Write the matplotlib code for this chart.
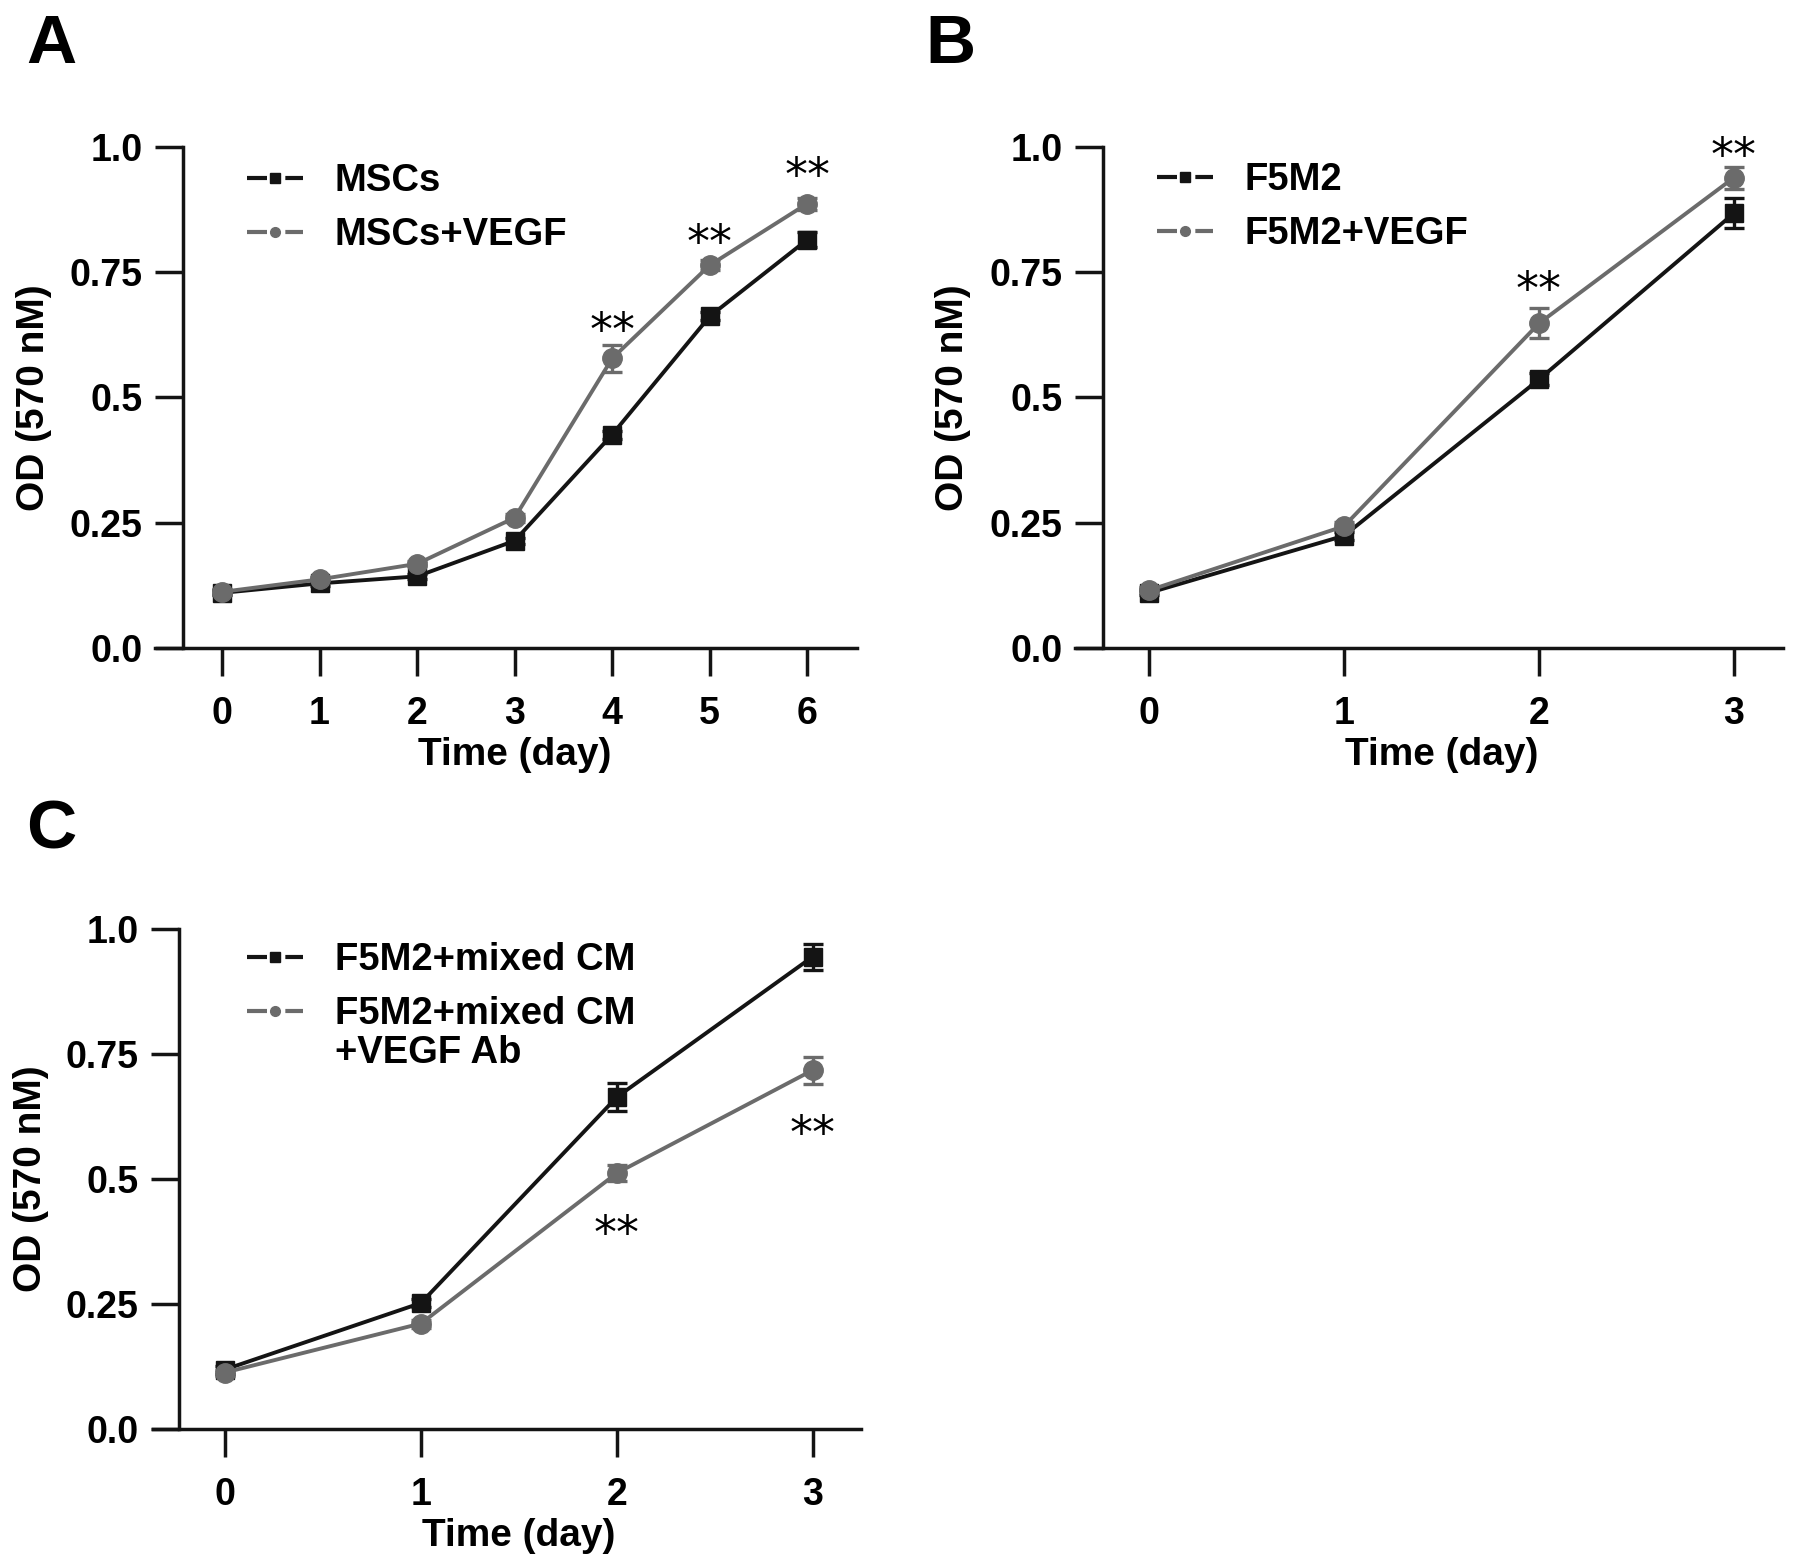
import matplotlib
matplotlib.use("Agg")
import matplotlib.pyplot as plt
from matplotlib.lines import Line2D

plt.rcParams['font.family'] = ['Liberation Sans', 'DejaVu Sans']
plt.rcParams['font.weight'] = 'bold'

BLACK = '#141414'
GREY = '#6b6b6b'

# panel A - MSCs
days_a = [0, 1, 2, 3, 4, 5, 6]
mscs = [0.110, 0.129, 0.143, 0.214, 0.426, 0.662, 0.815]
mscs_err = [0.005, 0.005, 0.005, 0.006, 0.008, 0.008, 0.015]
mscs_vegf = [0.112, 0.137, 0.168, 0.260, 0.578, 0.764, 0.887]
mscs_vegf_err = [0.005, 0.005, 0.005, 0.008, 0.027, 0.010, 0.012]
stars_a_x = [4, 5, 6]
stars_a_y = [0.655, 0.830, 0.964]

# panel B - F5M2
days_b = [0, 1, 2, 3]
f5m2 = [0.110, 0.224, 0.536, 0.868]
f5m2_err = [0.005, 0.008, 0.012, 0.030]
f5m2_vegf = [0.115, 0.243, 0.648, 0.939]
f5m2_vegf_err = [0.006, 0.008, 0.030, 0.022]
stars_b_x = [2, 3]
stars_b_y = [0.737, 1.004]

# panel C - mixed CM
days_c = [0, 1, 2, 3]
mixed = [0.119, 0.252, 0.664, 0.945]
mixed_err = [0.008, 0.008, 0.028, 0.026]
mixed_ab = [0.113, 0.211, 0.512, 0.718]
mixed_ab_err = [0.006, 0.008, 0.016, 0.027]
stars_c_x = [2, 3]
stars_c_y = [0.412, 0.612]

yticks = [0, 0.25, 0.5, 0.75, 1.0]
ytick_labels = ['0.0', '0.25', '0.5', '0.75', '1.0']

fig = plt.figure(figsize=(17.95, 15.6), dpi=100)


def series(ax, x, y, err, color, marker, ms):
    c = ax.errorbar(x, y, yerr=err, color=color, marker=marker, ms=ms,
                    mec=color, mfc=color, lw=2.8, elinewidth=2.4,
                    capsize=7, capthick=2.4, zorder=3)
    for art in c.get_children():
        art.set_clip_on(False)


def legend_handle(color, marker, ms):
    return Line2D([], [], color=color, lw=3, marker=marker, ms=ms,
                  linestyle=(0, (4.8, 4.4)), dash_capstyle='butt')


def panel(rect, xlim, spine_x, days, s1, e1, s2, e2, labels, sx, sy, leg_xy, star_dy):
    ax = fig.add_axes(rect)
    series(ax, days, s1, e1, BLACK, 's', 12.5)
    series(ax, days, s2, e2, GREY, 'o', 14)
    ax.set_xlim(*xlim)
    ax.set_ylim(0, 1.0)
    for side in ['top', 'right']:
        ax.spines[side].set_visible(False)
    ax.spines['left'].set_position(('data', spine_x))
    for side in ['left', 'bottom']:
        ax.spines[side].set_linewidth(2.5)
        ax.spines[side].set_color(BLACK)
    ax.set_xticks(days)
    ax.set_yticks(yticks, ytick_labels)
    ax.tick_params(direction='out', length=20, width=2.5, color=BLACK,
                   labelsize=27)
    ax.tick_params(axis='y', pad=9)
    ax.tick_params(axis='x', pad=14.5)
    ax.set_xlabel('Time (day)', fontsize=28, fontweight='bold')
    ax.set_ylabel('OD (570 nM)', fontsize=28, fontweight='bold')
    mid = (days[0] + days[-1]) / 2
    ax.xaxis.set_label_coords((mid - xlim[0]) / (xlim[1] - xlim[0]), -0.178)
    ax.yaxis.set_label_coords(-0.147, 0.5)
    for x, y in zip(sx, sy):
        ax.annotate('**', (x, y), xytext=(0, star_dy), textcoords='offset points',
                    ha='center', va='center', fontsize=33, fontweight='normal',
                    family='DejaVu Sans', annotation_clip=False)
    handles = [legend_handle(BLACK, 's', 6.5), legend_handle(GREY, 'o', 7)]
    leg = ax.legend(handles, labels, loc='upper left', bbox_to_anchor=leg_xy,
                    frameon=False, borderpad=0, borderaxespad=0,
                    handlelength=1.47, handletextpad=0.83, labelspacing=0.48,
                    prop={'size': 27.5, 'weight': 'bold'})
    return ax, leg


axA, legA = panel([0.08635, 0.58462, 0.39109, 0.32115], (-0.687, 6.51), -0.40,
                  days_a, mscs, mscs_err, mscs_vegf, mscs_vegf_err,
                  ['MSCs', 'MSCs+VEGF'], stars_a_x, stars_a_y, (0.131, 0.968), -9)
axB, legB = panel([0.59889, 0.58462, 0.39443, 0.32115], (-0.379, 3.251), -0.236,
                  days_b, f5m2, f5m2_err, f5m2_vegf, f5m2_vegf_err,
                  ['F5M2', 'F5M2+VEGF'], stars_b_x, stars_b_y, (0.116, 0.970), -9)
axC, legC = panel([0.08524, 0.08397, 0.39443, 0.32051], (-0.367, 3.245), -0.235,
                  days_c, mixed, mixed_err, mixed_ab, mixed_ab_err,
                  ['F5M2+mixed CM', 'F5M2+mixed CM'], stars_c_x, stars_c_y,
                  (0.133, 0.974), -9)

# second line of the grey legend label in panel C
fig.canvas.draw()
bb = legC.get_texts()[1].get_window_extent(fig.canvas.get_renderer())
fig.text(bb.x0 / fig.bbox.width, (bb.y0 + bb.y1) / 2 / fig.bbox.height - 39 / 1560,
         '+VEGF Ab', fontsize=27.5, fontweight='bold', ha='left', va='center')

for letter, (x, y) in zip(['A', 'B', 'C'], [(26, 13), (925, 13), (26, 799)]):
    fig.text(x / 1795, 1 - y / 1560, letter, fontsize=50, fontweight='bold',
             ha='left', va='top')

fig.savefig('out.png', dpi=100, facecolor='white')
